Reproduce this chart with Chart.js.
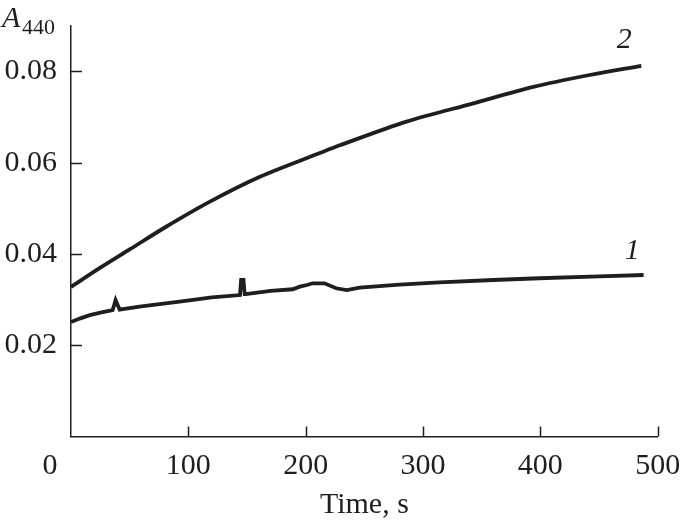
<!DOCTYPE html>
<html lang="en">
<head>
    <meta charset="UTF-8">
    <title>A440 vs time</title>
    <script src="https://cdn.jsdelivr.net/npm/chart.js"></script>
    <style>
        body { margin: 0; background: #fff; }
        canvas { display: block; }
    </style>
</head>
<body>
    <canvas id="absChart" width="685" height="524"></canvas>

    <script>
        // Curve 1 (time in s, absorbance at 440 nm)
        const time1 = [0, 8, 16, 26, 35.5, 37, 38, 39.5, 41.5, 44, 60, 92.6, 120, 144, 145, 145.5, 147, 148, 149, 170, 189, 195, 201, 206, 216, 226, 235, 246, 280, 314, 360, 399, 450, 488];
        const abs1 = [0.0251, 0.0259, 0.0266, 0.0272, 0.0277, 0.0290, 0.0299, 0.0290, 0.0278, 0.0279, 0.0285, 0.02955, 0.0305, 0.0310, 0.0343, 0.0343, 0.0343, 0.0312, 0.0312, 0.0319, 0.03227, 0.03284, 0.0332, 0.03358, 0.03358, 0.03249, 0.03211, 0.03262, 0.0333, 0.0338, 0.0343, 0.03468, 0.0351, 0.0354];

        // Curve 2
        const time2 = [0, 25, 50, 80, 118, 161, 212, 229, 286, 343, 394, 442, 486];
        const abs2 = [0.0328, 0.0370, 0.0410, 0.0458, 0.0514, 0.0569, 0.0621, 0.0638, 0.0690, 0.0730, 0.0766, 0.0792, 0.0812];

        // Axis ticks
        const xTicks = [0, 100, 200, 300, 400, 500];
        const yTicks = [0.02, 0.04, 0.06, 0.08];

        // Curve labels, placed in data coordinates
        const curveLabels = [
            { text: '2', x: 465, y: 0.0851 },
            { text: '1', x: 472, y: 0.0389 }
        ];

        const ink = '#1e1e1e';
        const serif = 'Liberation Serif';

        const toPoints = (xs, ys) => xs.map((x, i) => ({ x: x, y: ys[i] }));

        // Inward tick marks, offset "0" label, axis symbol and curve numbers
        const extrasPlugin = {
            id: 'extras',
            afterDraw(chart) {
                const ctx = chart.ctx;
                const xs = chart.scales.x;
                const ys = chart.scales.y;
                ctx.save();
                ctx.strokeStyle = ink;
                ctx.lineWidth = 1.5;
                ctx.beginPath();
                yTicks.forEach(v => {
                    const py = Math.round(ys.getPixelForValue(v)) + 0.5;
                    ctx.moveTo(xs.left, py);
                    ctx.lineTo(xs.left + 11, py);
                });
                xTicks.slice(1).forEach(v => {
                    const px = Math.round(xs.getPixelForValue(v)) + 0.5;
                    ctx.moveTo(px, ys.bottom);
                    ctx.lineTo(px, ys.bottom - 10);
                });
                ctx.stroke();

                ctx.fillStyle = ink;
                ctx.textAlign = 'center';
                ctx.textBaseline = 'middle';
                ctx.font = '30px "' + serif + '"';
                ctx.fillText('0', xs.left - 21, xs.top + 30);

                ctx.textAlign = 'left';
                ctx.textBaseline = 'alphabetic';
                ctx.font = 'italic 30px "' + serif + '"';
                ctx.fillText('A', 2, 27);
                ctx.font = '22px "' + serif + '"';
                ctx.fillText('440', 22, 34);

                ctx.font = 'italic 30px "' + serif + '"';
                curveLabels.forEach(l => {
                    ctx.fillText(l.text, xs.getPixelForValue(l.x), ys.getPixelForValue(l.y));
                });
                ctx.restore();
            }
        };

        const lineStyle = {
            borderColor: ink,
            borderWidth: 3.8,
            pointRadius: 0,
            fill: false
        };

        new Chart(document.getElementById('absChart'), {
            type: 'line',
            data: {
                datasets: [
                    Object.assign({ label: '1', data: toPoints(time1, abs1), tension: 0 }, lineStyle),
                    Object.assign({ label: '2', data: toPoints(time2, abs2), tension: 0.3 }, lineStyle)
                ]
            },
            options: {
                responsive: false,
                animation: false,
                layout: { padding: { top: 25.7, right: 27.3, left: 0, bottom: 0 } },
                plugins: {
                    legend: { display: false },
                    tooltip: { enabled: false }
                },
                scales: {
                    x: {
                        type: 'linear',
                        min: 0,
                        max: 500,
                        afterBuildTicks: s => { s.ticks = xTicks.map(v => ({ value: v })); },
                        afterFit: s => {
                            s.height = 87.4;
                            s.paddingLeft = 0;
                            s.paddingRight = 0;
                        },
                        grid: { drawOnChartArea: false, drawTicks: false },
                        border: { display: true, color: ink, width: 1.5 },
                        ticks: {
                            padding: 12,
                            color: ink,
                            font: { family: serif, size: 30 },
                            maxRotation: 0,
                            callback: v => (v === 0 ? '' : String(v))
                        },
                        title: {
                            display: true,
                            text: 'Time, s',
                            color: ink,
                            font: { family: serif, size: 30 },
                            padding: { top: 0, bottom: 1 }
                        }
                    },
                    y: {
                        min: 0,
                        max: 0.09,
                        afterBuildTicks: s => { s.ticks = yTicks.map(v => ({ value: v })); },
                        afterFit: s => {
                            s.width = 71;
                            s.paddingTop = 0;
                            s.paddingBottom = 0;
                        },
                        grid: { drawOnChartArea: false, drawTicks: false },
                        border: { display: true, color: ink, width: 1.5 },
                        ticks: {
                            padding: 14,
                            color: ink,
                            font: { family: serif, size: 30 },
                            callback: v => v.toFixed(2)
                        }
                    }
                }
            },
            plugins: [extrasPlugin]
        });
    </script>
</body>
</html>
